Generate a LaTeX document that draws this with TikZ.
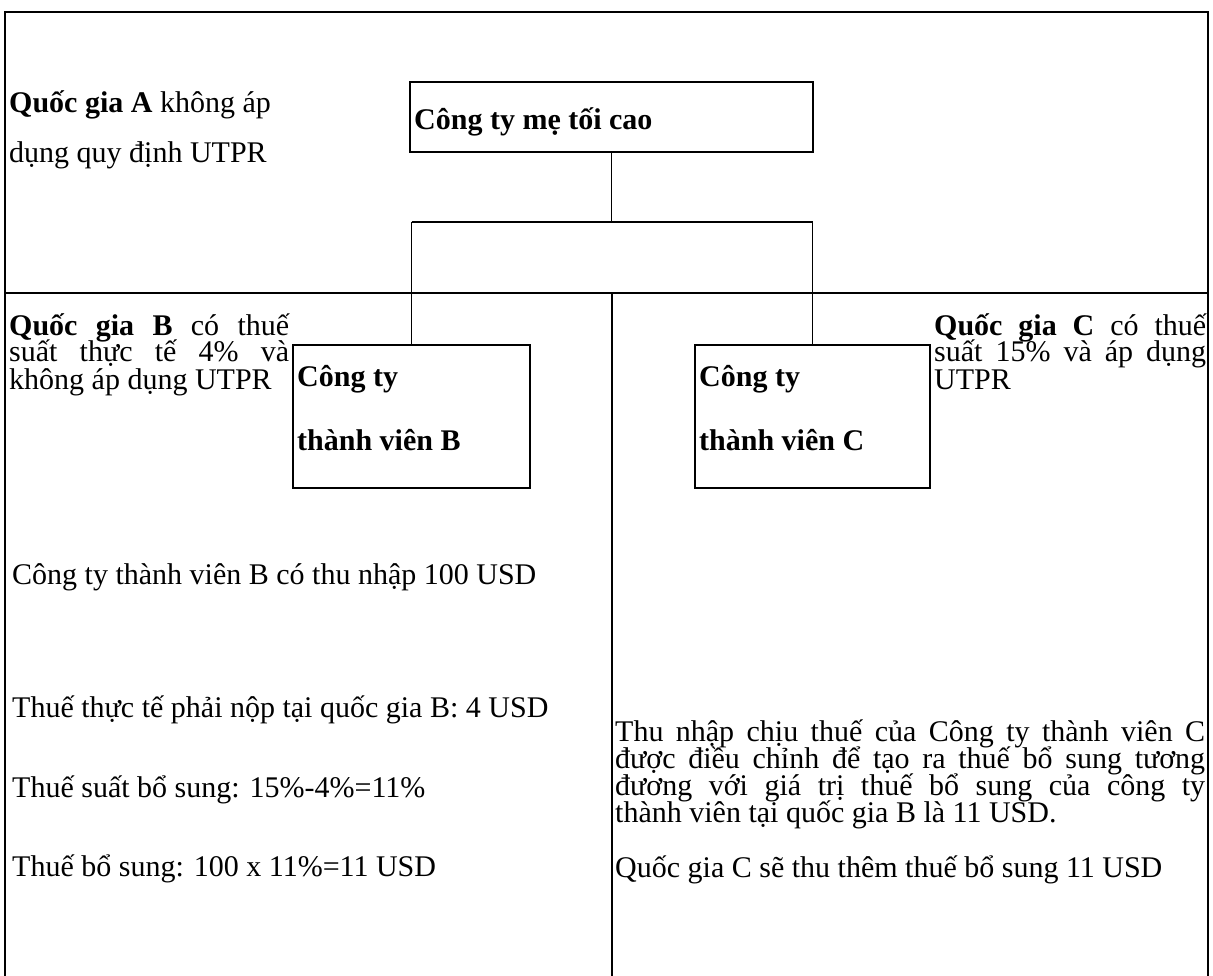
\documentclass[tikz,border=0pt]{standalone}
\usepackage{fontspec}
\setmainfont{Liberation Serif}
\newcommand\jl[2]{\makebox[#1][s]{#2}}
\begin{document}
\begin{tikzpicture}[x=1pt,y=-1pt,
  frame/.style={line width=1.7pt,black},
  boxnode/.style={draw,line width=1.7pt,rectangle,inner sep=0pt},
  txt/.style={anchor=base west,inner sep=0pt,font=\fontsize{30}{27}\selectfont},
  btxt/.style={txt,font=\fontsize{30}{27}\selectfont\bfseries}]
\useasboundingbox (0,0) rectangle (1213,976);
% outer frame and dividers
\coordinate (TL) at (5,12);
\coordinate (TR) at (1208,12);
\coordinate (BL) at (5,976);
\coordinate (BR) at (1208,976);
\coordinate (DL) at (5,293);
\coordinate (DR) at (1208,293);
\coordinate (MT) at (612,293);
\coordinate (MB) at (612,976);
\draw[frame] (BL) -- (TL) -- (TR) -- (BR);
\draw[frame] (DL) -- (DR);
\draw[frame] (MT) -- (MB);
% boxes
\node[boxnode,minimum width=403pt,minimum height=70pt] (P) at (611.5,117) {};
\node[boxnode,minimum width=237pt,minimum height=143pt] (B) at (411.5,416.5) {};
\node[boxnode,minimum width=235pt,minimum height=143pt] (C) at (812.5,416.5) {};
\node[btxt] (Pt) at (414,130) {Công ty mẹ tối cao};
\node[btxt] (Bt1) at (297,386) {Công ty};
\node[btxt] (Bt2) at (297,450) {thành viên B};
\node[btxt] (Ct1) at (699,386) {Công ty};
\node[btxt] (Ct2) at (699,450) {thành viên C};
% connectors
\coordinate (J) at (P.south |- 0,222);
\coordinate (JL) at (B.north |- 0,222);
\coordinate (JR) at (C.north |- 0,222);
\draw[frame] (P.south) -- (J);
\draw[frame] (JL) -- (JR);
\draw[frame] (JL) -- (B.north);
\draw[frame] (JR) -- (C.north);
% country A
\node[txt] (A1) at (9,113) {\textbf{Quốc gia A} không áp};
\node[txt] (A2) at (9,163) {dụng quy định UTPR};
% country B
\node[txt] (Bq1) at (9,335) {\jl{280pt}{\textbf{Quốc gia B} có thuế}};
\node[txt] (Bq2) at (9,362) {\jl{280pt}{suất thực tế 4\% và}};
\node[txt] (Bq3) at (9,389) {không áp dụng UTPR};
% country C
\node[txt] (Cq1) at (934,335) {\jl{272pt}{\textbf{Quốc gia C} có thuế}};
\node[txt] (Cq2) at (934,362) {\jl{272pt}{suất 15\% và áp dụng}};
\node[txt] (Cq3) at (934,389) {UTPR};
% left column
\node[txt] (L1) at (12,584) {Công ty thành viên B có thu nhập 100 USD};
\node[txt] (L2) at (12,717) {Thuế thực tế phải nộp tại quốc gia B: 4 USD};
\node[txt] (L3) at (12,797) {Thuế suất bổ sung: 15\%-4\%=11\%};
\node[txt] (L4) at (12,876) {Thuế bổ sung: 100 x 11\%=11 USD};
% right column
\node[txt] (R1) at (615,741) {\jl{590pt}{Thu nhập chịu thuế của Công ty thành viên C}};
\node[txt] (R2) at (615,768) {\jl{590pt}{được điều chỉnh để tạo ra thuế bổ sung tương}};
\node[txt] (R3) at (615,795) {\jl{590pt}{đương với giá trị thuế bổ sung của công ty}};
\node[txt] (R4) at (615,822) {thành viên tại quốc gia B là 11 USD.};
\node[txt] (R5) at (615,877) {Quốc gia C sẽ thu thêm thuế bổ sung 11 USD};
\end{tikzpicture}
\end{document}
